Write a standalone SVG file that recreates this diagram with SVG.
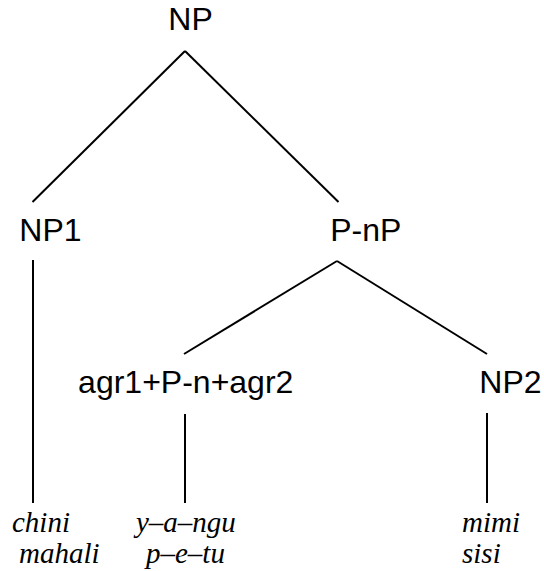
<svg xmlns="http://www.w3.org/2000/svg" width="544" height="571" viewBox="0 0 544 571">
  <style>
    .label { font-family: "Liberation Sans", Arial, sans-serif; font-size: 32px; fill: #000; }
    .word { font-family: "Liberation Serif", "Times New Roman", serif; font-size: 29px; font-style: italic; fill: #000; }
    .edge { stroke: #000; stroke-width: 2; fill: none; stroke-linecap: butt; }
  </style>
  <rect width="544" height="571" fill="#fff"/>

  <!-- tree branches -->
  <g id="connectors">
    <line class="edge" x1="185" y1="51" x2="32.5" y2="202"/>
    <line class="edge" x1="185" y1="51" x2="338.5" y2="202"/>
    <line class="edge" x1="33" y1="260" x2="33" y2="503"/>
    <line class="edge" x1="337" y1="261" x2="184" y2="354"/>
    <line class="edge" x1="337" y1="261" x2="487" y2="354"/>
    <line class="edge" x1="185" y1="414" x2="185" y2="503"/>
    <line class="edge" x1="487" y1="413" x2="487" y2="503"/>
  </g>

  <g id="np">
    <text class="label" x="168.3" y="30">NP</text>
  </g>
  <g id="np1">
    <text class="label" x="19.3" y="241">NP1</text>
  </g>
  <g id="p-np">
    <text class="label" x="330.2" y="241">P-nP</text>
  </g>
  <g id="agr">
    <text class="label" x="78.1" y="393">agr1+P-n+agr2</text>
  </g>
  <g id="np2">
    <text class="label" x="479.3" y="393">NP2</text>
  </g>

  <!-- leaf words -->
  <g id="leaf-np1">
    <text class="word" x="12" y="532">chini</text>
    <text class="word" x="19" y="563">mahali</text>
  </g>
  <g id="leaf-agr">
    <text class="word" x="136" y="532">y–a–ngu</text>
    <text class="word" x="146" y="563">p–e–tu</text>
  </g>
  <g id="leaf-np2">
    <text class="word" x="462" y="532">mimi</text>
    <text class="word" x="462" y="563">sisi</text>
  </g>
</svg>
